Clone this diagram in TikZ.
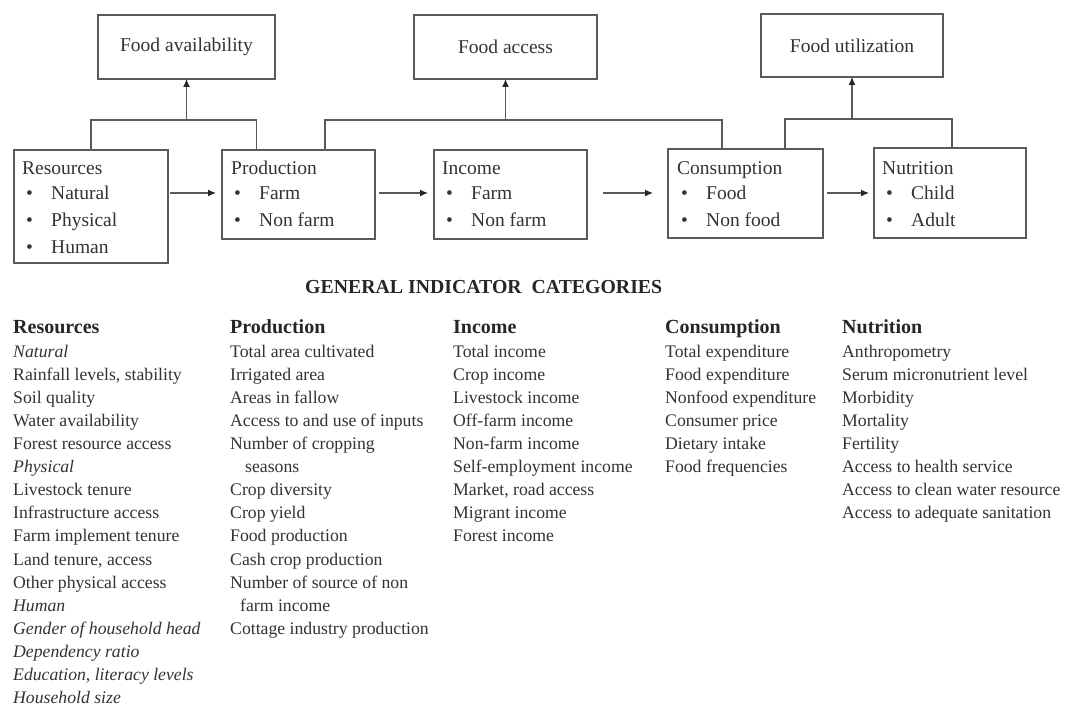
\documentclass[tikz,border=0pt]{standalone}
\usepackage{fontspec}
\setmainfont{Liberation Serif}
\usetikzlibrary{arrows.meta}
\definecolor{ink}{HTML}{333333}
\definecolor{rule}{HTML}{5A5A5A}
\tikzset{
  box/.style={draw=rule, line width=1.3pt, inner sep=0pt, outer sep=0pt},
  goalbox/.style={box, text=ink, font=\fontsize{19.5}{23}\selectfont},
  boxtext/.style={inner sep=0pt, anchor=base west, text=ink, font=\fontsize{19.5}{23}\selectfont},
  link/.style={draw=rule, line width=1.2pt},
  arr/.style={link, -{Latex[length=8pt,width=7pt,color=black!85]}},
  rowtext/.style={inner sep=0pt, anchor=base west, text=ink, font=\fontsize{17.7}{21}\selectfont},
  headtext/.style={inner sep=0pt, anchor=base west, text=black!85, font=\fontsize{20}{23}\selectfont\bfseries},
}
\newcommand\bul[1]{\makebox[25pt][l]{•}#1}
\begin{document}
\begin{tikzpicture}[x=1pt,y=-1pt]
\useasboundingbox[fill=white] (0,0) rectangle (1066,708);

% goal boxes
\node[goalbox, minimum width=177pt, minimum height=64pt] (avail) at (186.5,47) {Food availability};
\node[goalbox, minimum width=183pt, minimum height=64pt] (access) at (505.5,47) {Food access};
\node[goalbox, minimum width=182pt, minimum height=63pt] (util) at (852,45.5) {Food utilization};

% chain boxes
\node[box, minimum width=154pt, minimum height=113pt] (res) at (91,206.5) {};
\node[box, minimum width=153pt, minimum height=89pt] (prod) at (298.5,194.5) {};
\node[box, minimum width=153pt, minimum height=89pt] (inc) at (510.5,194.5) {};
\node[box, minimum width=155pt, minimum height=89pt] (cons) at (745.5,193.5) {};
\node[box, minimum width=152pt, minimum height=90pt] (nut) at (950,193) {};

% box contents
\node[boxtext] (res-t) at (22,174.5) {Resources};
\node[boxtext] (res-1) at (26,199.5) {\bul{Natural}};
\node[boxtext] (res-2) at (26,226.5) {\bul{Physical}};
\node[boxtext] (res-3) at (26,253.5) {\bul{Human}};

\node[boxtext] (prod-t) at (231,174.5) {Production};
\node[boxtext] (prod-1) at (234,199.5) {\bul{Farm}};
\node[boxtext] (prod-2) at (234,226.5) {\bul{Non farm}};

\node[boxtext] (inc-t) at (442,174.5) {Income};
\node[boxtext] (inc-1) at (446,199.5) {\bul{Farm}};
\node[boxtext] (inc-2) at (446,226.5) {\bul{Non farm}};

\node[boxtext] (cons-t) at (677,174.5) {Consumption};
\node[boxtext] (cons-1) at (681,199.5) {\bul{Food}};
\node[boxtext] (cons-2) at (681,226.5) {\bul{Non food}};

\node[boxtext] (nut-t) at (882,174.5) {Nutrition};
\node[boxtext] (nut-1) at (886,199.5) {\bul{Child}};
\node[boxtext] (nut-2) at (886,226.5) {\bul{Adult}};

% junctions above the chain
\coordinate (availJ) at (186.5,120);
\coordinate (accessJ) at (505.5,120);
\coordinate (utilJ) at (852,119);
\coordinate (flowY) at (0,193);

\draw[link] (res.north) |- (availJ) -| ([xshift=34.5pt]prod.north west);
\draw[arr] (availJ) -- (avail.south);
\draw[link] ([xshift=103pt]prod.north west) |- (accessJ) -| ([xshift=54pt]cons.north west);
\draw[arr] (accessJ) -- (access.south);
\draw[link] ([xshift=117pt]cons.north west) |- (utilJ) -| ([xshift=2pt]nut.north);
\draw[arr] (utilJ) -- (util.south);

% flow along the chain
\draw[arr] ([xshift=2pt]res.east |- flowY) -- ([xshift=-6pt]prod.west |- flowY);
\draw[arr] ([xshift=4pt]prod.east |- flowY) -- ([xshift=-6pt]inc.west |- flowY);
\coordinate (incOut) at (603,193);
\coordinate (consIn) at (653,193);
\draw[arr] (incOut) -- (consIn);
\draw[arr] ([xshift=4pt]cons.east |- flowY) -- ([xshift=-5pt]nut.west |- flowY);

% indicator table
\node[headtext, font=\fontsize{19.8}{23}\selectfont\bfseries] (gic) at (305,294) {GENERAL INDICATOR\ \ CATEGORIES};

\node[headtext] (rc-h) at (13,334) {Resources};
\foreach \t [count=\i] in {{\itshape Natural}, {Rainfall levels, stability}, Soil quality,
  Water availability, Forest resource access, {\itshape Physical}, Livestock tenure,
  Infrastructure access, Farm implement tenure, {Land tenure, access}, Other physical access,
  {\itshape Human}, {\itshape Gender of household head}, {\itshape Dependency ratio},
  {\itshape Education, literacy levels}, {\itshape Household size}}
  \node[rowtext] (rc-\i) at (13,{334+23.1*\i}) {\t};

\node[headtext] (pc-h) at (230,334) {Production};
\foreach \t [count=\i] in {Total area cultivated, Irrigated area, Areas in fallow,
  Access to and use of inputs, Number of cropping, {\hspace{15pt}seasons}, Crop diversity,
  Crop yield, Food production, Cash crop production, Number of source of non,
  {\hspace{10pt}farm income}, Cottage industry production}
  \node[rowtext] (pc-\i) at (230,{334+23.1*\i}) {\t};

\node[headtext] (ic-h) at (453,334) {Income};
\foreach \t [count=\i] in {Total income, Crop income, Livestock income, Off-farm income,
  Non-farm income, Self-employment income, {Market, road access}, Migrant income, Forest income}
  \node[rowtext] (ic-\i) at (453,{334+23.1*\i}) {\t};

\node[headtext] (cc-h) at (665,334) {Consumption};
\foreach \t [count=\i] in {Total expenditure, Food expenditure, Nonfood expenditure,
  Consumer price, Dietary intake, Food frequencies}
  \node[rowtext] (cc-\i) at (665,{334+23.1*\i}) {\t};

\node[headtext] (nc-h) at (842,334) {Nutrition};
\foreach \t [count=\i] in {Anthropometry, Serum micronutrient level, Morbidity, Mortality,
  Fertility, Access to health service, Access to clean water resource,
  Access to adequate sanitation}
  \node[rowtext] (nc-\i) at (842,{334+23.1*\i}) {\t};
\end{tikzpicture}
\end{document}
